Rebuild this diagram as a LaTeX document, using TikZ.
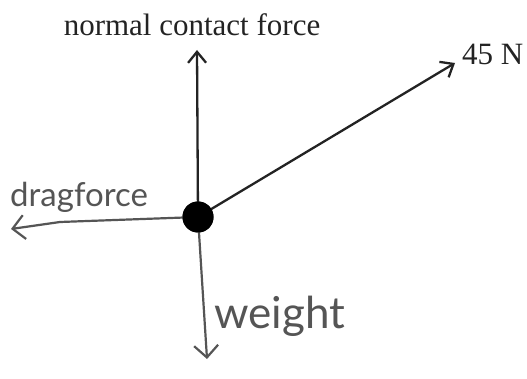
\documentclass[tikz,border=0pt]{standalone}
\usepackage{fontspec}
\setmainfont{Liberation Serif}
\newfontfamily\handfont{Lato}
\usetikzlibrary{arrows.meta}
\definecolor{ink}{RGB}{35,35,35}
\definecolor{pencil}{RGB}{85,85,85}
\tikzset{
  force/.style={draw=ink, line width=2.3pt, -{Straight Barb[length=11pt,width=18pt,line width=2.3pt]}},
  handforce/.style={draw=pencil, line width=2.2pt, -{Straight Barb[length=12pt,width=24pt,line width=2.2pt]}},
  printlabel/.style={text=ink, font=\fontsize{31}{36}\selectfont, inner sep=0pt},
  handlabel/.style={text=pencil, inner sep=0pt, anchor=base west}
}
\begin{document}
\begin{tikzpicture}[x=1pt,y=-1pt]
\useasboundingbox (0,0) rectangle (527,379);
\node[circle, fill=black, minimum size=31pt, inner sep=0pt] (dot) at (198,217) {};
\coordinate (up) at (197,50);
\coordinate (ne) at (455,63);
\coordinate (left) at (11,229);
\coordinate (bend) at (60,222);
\coordinate (down) at (207,359);
\draw[force] (dot.center) -- (up);
\draw[force] (dot.center) -- (ne);
\draw[handforce] (dot.center) -- (bend) -- (left);
\draw[handforce] (dot.center) -- (down);
\node[circle, fill=black, minimum size=31pt, inner sep=0pt] at (dot) {};
\node[printlabel] (nlabel) at (192,25) {normal contact force};
\node[printlabel, anchor=west] (flabel) at (462,54) {45 N};
\node[handlabel, font=\handfont\fontsize{33}{36}\selectfont] (dlabel) at (10,207) {dragforce};
\node[handlabel, font=\handfont\fontsize{44}{48}\selectfont] (wlabel) at (214,328) {weight};
\end{tikzpicture}
\end{document}
